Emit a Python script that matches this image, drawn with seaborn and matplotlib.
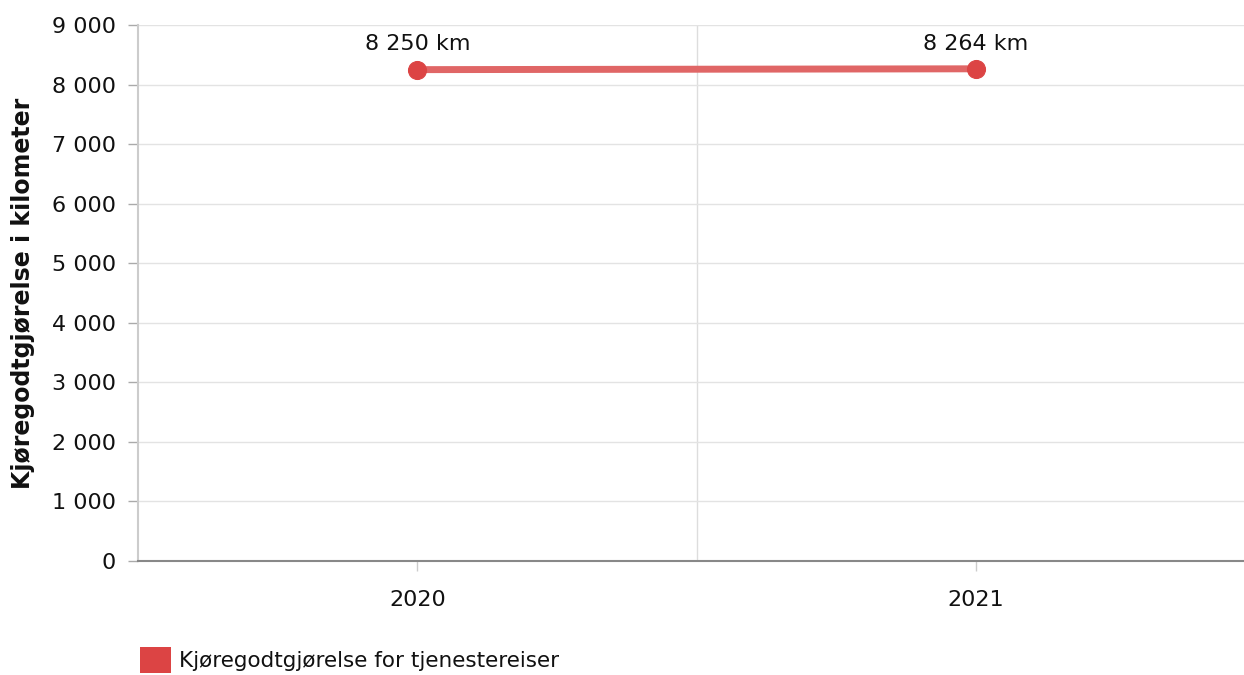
import matplotlib
matplotlib.use("Agg")
import matplotlib.pyplot as plt
import matplotlib.ticker as mticker
from matplotlib.patches import Patch
import pandas as pd
import seaborn as sns

years = ["2020", "2021"]
km = [8250, 8264]
series_name = "Kjøregodtgjørelse for tjenestereiser"
y_label = "Kjøregodtgjørelse i kilometer"

df = pd.DataFrame({"year": years, "km": km})
df["pos"] = range(len(df))

sns.set_style("white")
plt.rcParams["font.family"] = ["DejaVu Sans"]

fig = plt.figure(figsize=(12.44, 6.75), dpi=100)
ax = fig.add_axes([0.111, 0.169, 0.889, 0.794])

sns.lineplot(data=df, x="pos", y="km", ax=ax, color="#e06666", linewidth=5,
             marker="o", markersize=13, markerfacecolor="#dc4444",
             markeredgecolor="#dc4444", zorder=3)

def fmt(v, pos=None):
    return f"{int(round(v)):,}".replace(",", " ")

for x, y in zip(df["pos"], df["km"]):
    ax.annotate(fmt(y) + " km", (x, y), xytext=(0, 11), textcoords="offset points",
                ha="center", va="bottom", fontsize=16, color="#111111")

ax.set_xlim(-0.5, 1.48)
ax.set_ylim(0, 9000)
ax.set_xticks(df["pos"])
ax.set_xticklabels(years)
ax.yaxis.set_major_locator(mticker.MultipleLocator(1000))
ax.yaxis.set_major_formatter(mticker.FuncFormatter(fmt))

ax.grid(axis="y", color="#e3e3e3", linewidth=1)
ax.axvline(0.5, color="#dddddd", linewidth=1, zorder=0)

for side in ["top", "right"]:
    ax.spines[side].set_visible(False)
ax.spines["left"].set_color("#cccccc")
ax.spines["left"].set_linewidth(1.5)
ax.spines["bottom"].set_color("#888888")
ax.spines["bottom"].set_linewidth(1.5)

ax.tick_params(axis="y", length=7, width=1, color="#aaaaaa", labelsize=16,
               labelcolor="#111111", pad=9, left=True)
ax.tick_params(axis="x", length=7, width=1, color="#cccccc", labelsize=16,
               labelcolor="#111111", pad=14, bottom=True)

ax.set_xlabel("")
ax.set_ylabel(y_label, fontsize=17, fontweight="bold", color="#111111", labelpad=12)

handle = Patch(facecolor="#dc4444", edgecolor="none", label=series_name)
leg = fig.legend(handles=[handle], loc="lower left", bbox_to_anchor=(0.097, -0.025),
                 frameon=False, fontsize=15.5, handlelength=1.45, handleheight=1.45,
                 handletextpad=0.35)
for t in leg.get_texts():
    t.set_color("#111111")

fig.savefig("out.png", dpi=100)
